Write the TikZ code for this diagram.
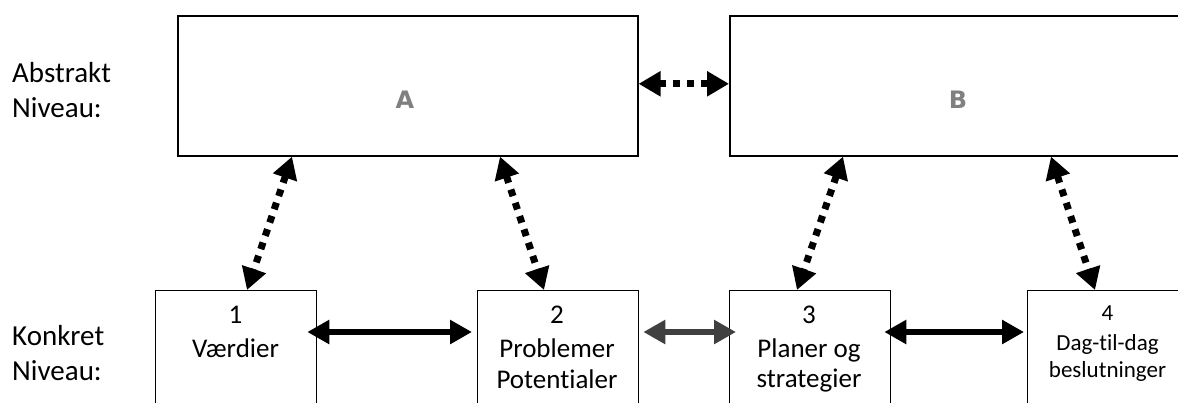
\documentclass[tikz,border=0pt]{standalone}
\usepackage{fontspec}
\setmainfont{Carlito}[Ligatures={NoCommon}]
\newfontfamily\labfont{DejaVu Sans}
\usetikzlibrary{arrows.meta,calc}
\definecolor{labgray}{HTML}{808080}
\definecolor{arrgray}{HTML}{404040}
\tikzset{
  bigbox/.style={draw, line width=1.6pt, minimum width=460pt, minimum height=140pt, anchor=north west, inner sep=0pt},
  smallbox/.style={draw, line width=1.3pt, minimum width=161pt, minimum height=130pt, anchor=north west, inner sep=0pt},
  side/.style={anchor=base west, inner sep=0pt, font=\fontsize{29}{35}\selectfont},
  boxtxt/.style={anchor=base, inner sep=0pt, font=\fontsize{27}{33}\selectfont},
  smalltxt/.style={anchor=base, inner sep=0pt, font=\fontsize{23}{28}\selectfont},
  letter/.style={inner sep=0pt, text=labgray, font=\labfont\bfseries\fontsize{24}{28}\selectfont},
  dotarrow/.style={line width=7pt, dash pattern=on 7pt off 7pt, {Triangle[length=22pt,width=24pt]}-{Triangle[length=22pt,width=24pt]}},
  solidarrow/.style={line width=6pt, {Triangle[length=22pt,width=23pt]}-{Triangle[length=22pt,width=23pt]}}
}
\begin{document}
\begin{tikzpicture}[x=1pt,y=-1pt]
\useasboundingbox (0,0) rectangle (1178,402);
\clip (0,0) rectangle (1178,402);
% big boxes
\node[bigbox] (A) at (177,15) {};
\node[bigbox] (B) at (729,15) {};
\node[letter] (la) at (405,100) {A};
\node[letter] (lb) at (958,100) {B};
% small boxes
\node[smallbox] (b1) at (155,290) {};
\node[smallbox] (b2) at (477,290) {};
\node[smallbox] (b3) at (729,290) {};
\node[smallbox] (b4) at (1027,290) {};
% side labels
\node[side] (s1) at (12,82) {Abstrakt};
\node[side] (s2) at (12,117) {Niveau:};
\node[side] (s3) at (12,345) {Konkret};
\node[side] (s4) at (12,380) {Niveau:};
% box texts
\node[boxtxt] (t1a) at (235.5,323) {1};
\node[boxtxt] (t1b) at (235.5,357) {Værdier};
\node[boxtxt] (t2a) at (557,323) {2};
\node[boxtxt] (t2b) at (557,357) {Problemer};
\node[boxtxt] (t2c) at (557,388) {Potentialer};
\node[boxtxt] (t3a) at (809,323) {3};
\node[boxtxt] (t3b) at (809,357) {Planer og};
\node[boxtxt] (t3c) at (809,387) {strategier};
\node[smalltxt] (t4a) at (1107.5,320) {4};
\node[smalltxt] (t4b) at (1107.5,350) {Dag-til-dag};
\node[smalltxt] (t4c) at (1107.5,377) {beslutninger};
% dotted arrows
\draw[dotarrow] ($(A.south west)+(115,0)$) -- ($(b1.north west)+(92,0)$);
\draw[dotarrow] ($(A.south west)+(323,0)$) -- ($(b2.north west)+(67,0)$);
\draw[dotarrow] ($(B.south west)+(114,0)$) -- ($(b3.north west)+(68,0)$);
\draw[dotarrow] ($(B.south west)+(322,0)$) -- ($(b4.north west)+(68,0)$);
\draw[dotarrow] ($(A.east)+(0,-2)$) -- ($(B.west)+(0,-2)$);
% solid arrows
\draw[solidarrow] ($(b1.north east)+(-10,42)$) -- ($(b2.north west)+(-5,42)$);
\draw[solidarrow, draw=arrgray, fill=arrgray] ($(b2.north east)+(4,42)$) -- ($(b3.north west)+(7,42)$);
\draw[solidarrow] ($(b3.north east)+(-7,42)$) -- ($(b4.north west)+(-3,42)$);
\end{tikzpicture}
\end{document}
